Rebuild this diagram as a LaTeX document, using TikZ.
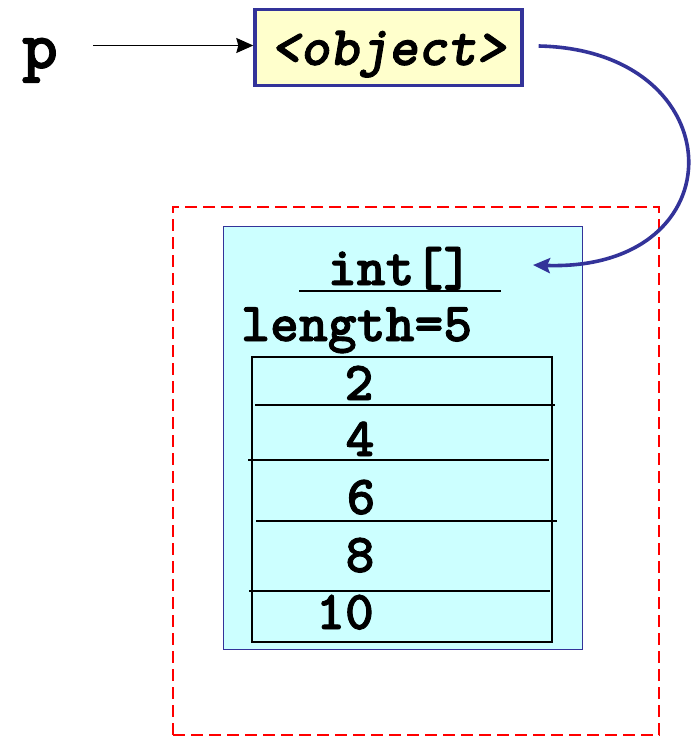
\documentclass[tikz,border=0pt]{standalone}
\usepackage{fontspec}
\usepackage{xcolor}
\usetikzlibrary{arrows.meta, positioning}
% heavy typewriter faces for the code text
\newfontfamily\codefont[FakeBold=1.6]{lmmonolt10-bold.otf}
\newfontfamily\codeslfont[FakeBold=1.6]{lmmonolt10-boldoblique.otf}
\definecolor{refblue}{HTML}{333399}
\definecolor{objyellow}{HTML}{FFFFCC}
\definecolor{arrcyan}{HTML}{CCFFFF}
\definecolor{heapred}{HTML}{FF0000}

\begin{document}
\begin{tikzpicture}[x=1pt, y=-1pt,
  code/.style={font=\fontsize{55}{58}\selectfont\codefont, inner sep=0pt},
  varname/.style={font=\fontsize{68}{72}\selectfont\codefont, inner sep=0pt},
  objbox/.style={rectangle, draw=refblue, fill=objyellow, line width=3.4pt,
    minimum width=267pt, minimum height=76pt, inner sep=0pt,
    text height=40pt, text depth=5pt,
    font=\fontsize{56}{58}\selectfont\codeslfont},
  arrbox/.style={rectangle, draw=refblue, fill=arrcyan, line width=1.8pt, inner sep=0pt},
  heapbox/.style={rectangle, draw=heapred, line width=2.6pt,
    dash pattern=on 12pt off 6pt, inner sep=0pt},
  cellbox/.style={rectangle, draw=black, line width=1.8pt, inner sep=0pt},
  cellline/.style={black, line width=1.8pt},
  ptr/.style={-{Stealth[length=17pt, width=15pt, inset=2pt]}, line width=1.3pt},
  link/.style={-{Stealth[length=17pt, width=15pt, inset=3pt]}, draw=refblue, line width=3.6pt},
]
  \useasboundingbox (0,0) rectangle (696,737);

  % reference and the object it points to
  \node[varname, anchor=base] (p) at (40,68) {p};
  \node[objbox] (obj) at (388.5,47.5) {<object>};
  \draw[ptr] (p.east |- obj.west) ++(35,-2) -- ([yshift=2pt]obj.west);

  % heap area with the array object
  \node[heapbox, minimum width=486pt, minimum height=528pt] (heap) at (416,471) {};
  \node[arrbox, minimum width=359pt, minimum height=423pt] (arr) at (403,438) {};
  \node[code, anchor=base, inner xsep=28.5pt] (hdr) at (400,285) {int[]};
  \draw[line width=2pt] ([yshift=-6pt]hdr.base west) -- ([yshift=-6pt]hdr.base east);
  \node[code, anchor=base west] (len) at (241,341) {length=5};

  % the five cells
  \node[cellbox, minimum width=300pt, minimum height=285pt] (cells) at (402,499.5) {};
  \foreach \y/\a/\b in {405/255/555, 460/248/549, 521/256/557, 591/249/550}
    \draw[cellline] (\a,\y) -- (\b,\y);
  \foreach \v/\x/\y [count=\i] in {2/359/400, 4/360/456, 6/361/514, 8/360/572, 10/345/629}
    \node[code, anchor=base] (c\i) at (\x,\y) {\v};

  % object -> array
  \coordinate (into) at (533,265);
  \draw[link] ([xshift=15pt, yshift=1.5pt]obj.east) .. controls (735,50) and (740,272) .. (into);
\end{tikzpicture}
\end{document}
